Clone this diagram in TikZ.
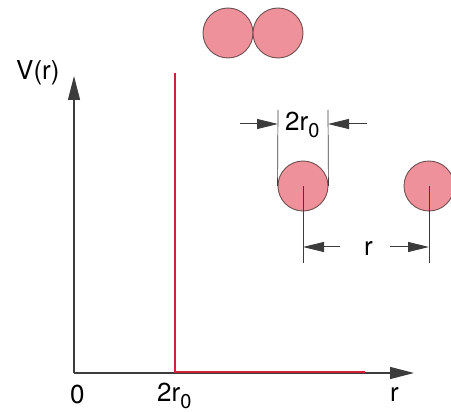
\documentclass[tikz,border=0pt]{standalone}
\usepackage{fontspec}
\setmainfont{TeX Gyre Heros}
\usetikzlibrary{arrows.meta}
\definecolor{ballfill}{RGB}{238,145,155}
\definecolor{balledge}{RGB}{110,80,80}
\definecolor{potred}{RGB}{205,35,55}
\definecolor{axisgray}{RGB}{60,60,60}
\newcommand{\subz}{\raisebox{-7pt}{\fontsize{20}{20}\selectfont 0}}
\begin{document}
\begin{tikzpicture}[x=1pt,y=-1pt,
  ball/.style={circle,draw=balledge,line width=0.9pt,fill=ballfill,minimum size=50pt,inner sep=0pt},
  axisline/.style={draw=axisgray,line width=1.3pt,-{Triangle[length=24pt,width=12pt]}},
  dimline/.style={draw=axisgray,line width=0.7pt},
  dimarrow/.style={draw=axisgray,line width=1pt,-{Triangle[length=21pt,width=10pt]}},
  potline/.style={draw=potred,line width=1.3pt},
  lbl/.style={font=\fontsize{26}{26}\selectfont,text=black,inner sep=0pt,anchor=base west}]
\useasboundingbox (0,0) rectangle (451,412);
% axes
\coordinate (O) at (74,373);
\coordinate (ytip) at (74,76);
\coordinate (xtip) at (414,373);
\draw[axisline] (O) -- (ytip);
\draw[axisline] (O) -- (xtip);
% potential
\coordinate (p1) at (175,73);
\coordinate (p2) at (175,372);
\coordinate (p3) at (365,372);
\draw[potline] (p1) -- (p2) -- (p3);
% labels
\node[lbl] (Vr) at (16,80) {V(r)};
\node[lbl] (zero) at (70,403) {0};
\node[lbl] (tworo) at (157,402) {2r\subz};
\node[lbl] (rax) at (390,402) {r};
% touching balls
\node[ball] (t1) at (228,33) {};
\node[ball] (t2) at (278,33) {};
% separated balls
\node[ball] (b1) at (303,186) {};
\node[ball] (b2) at (429,186) {};
% 2r0 dimension
\coordinate (d1top) at (278,110);
\coordinate (d2top) at (328,110);
\draw[dimline] (b1.west) -- (d1top);
\draw[dimline] (b1.east) -- (d2top);
\coordinate (a1s) at (240,124);
\coordinate (a1e) at (278,124);
\coordinate (a2s) at (367,124);
\coordinate (a2e) at (328,124);
\draw[dimarrow] (a1s) -- (a1e);
\draw[dimarrow] (a2s) -- (a2e);
\node[lbl] (dlab) at (285,131) {2r\subz};
% r dimension
\coordinate (c1bot) at (303,263);
\coordinate (c2bot) at (429,263);
\draw[dimline] (b1.center) -- (c1bot);
\draw[dimline] (b2.center) -- (c2bot);
\coordinate (r1s) at (340,247);
\coordinate (r1e) at (303,247);
\coordinate (r2s) at (390,247);
\coordinate (r2e) at (429,247);
\draw[dimarrow] (r1s) -- (r1e);
\draw[dimarrow] (r2s) -- (r2e);
\node[lbl] (rlab) at (364,256) {r};
\end{tikzpicture}
\end{document}
